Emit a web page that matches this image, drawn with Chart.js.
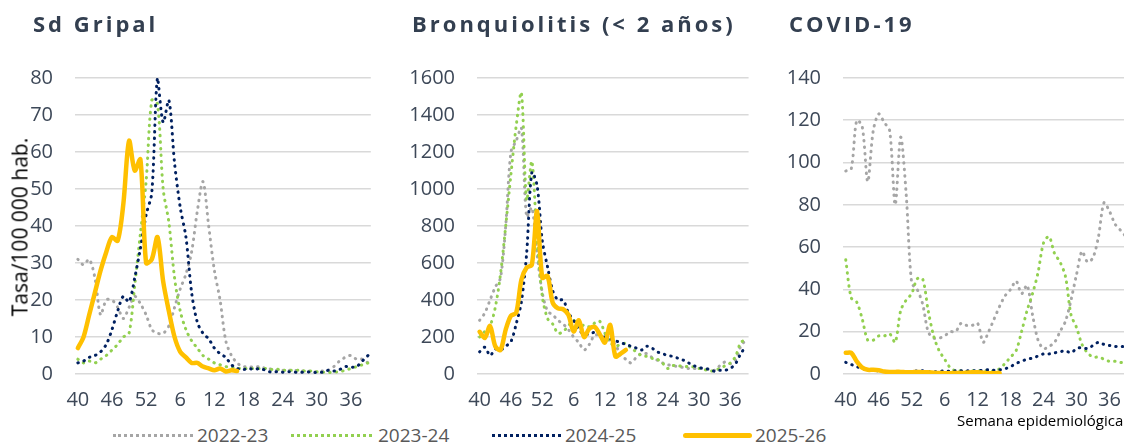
<!DOCTYPE html>
<html><head><meta charset="utf-8">
<script src="https://cdn.jsdelivr.net/npm/chart.js@4"></script>
<style>
html,body{margin:0;padding:0;background:#fff;width:1124px;height:444px;overflow:hidden;}
body{position:relative;font-family:'Open Sans',sans-serif;}
canvas{position:absolute;top:0;}
.title{position:absolute;top:12px;font-weight:700;font-size:22px;line-height:1;letter-spacing:3px;color:#333f50;white-space:nowrap;}
.ytitle{position:absolute;left:20px;top:227px;transform:translate(-50%,-50%) rotate(-90deg);font-size:21px;line-height:1;color:#000;white-space:nowrap;}
.xtitle{position:absolute;left:957px;top:413px;font-size:15px;line-height:1;color:#000;white-space:nowrap;}
.lg{position:absolute;top:426px;font-size:19px;line-height:1;color:#595959;white-space:nowrap;}
.ls{position:absolute;height:0;}
</style>
</head><body>
<canvas id="c1" width="382" height="420" style="left:0px;width:382px;height:420px"></canvas>
<canvas id="c2" width="380" height="420" style="left:380px;width:380px;height:420px"></canvas>
<canvas id="c3" width="380" height="420" style="left:760px;width:380px;height:420px"></canvas>
<div class="title" style="left:33px">Sd Gripal</div>
<div class="title" style="left:412px">Bronquiolitis (&lt; 2 años)</div>
<div class="title" style="left:789px">COVID-19</div>
<div class="ytitle">Tasa/100 000 hab.</div>
<div class="xtitle">Semana epidemiológica</div>
<div class="ls" style="left:113px;top:434px;width:80px;border-top:3px dotted #a6a6a6"></div>
<div class="lg" style="left:197px">2022-23</div>
<div class="ls" style="left:291px;top:434px;width:81px;border-top:3px dotted #92d050"></div>
<div class="lg" style="left:378px">2023-24</div>
<div class="ls" style="left:492px;top:434px;width:69px;border-top:3px dotted #002060"></div>
<div class="lg" style="left:565px">2024-25</div>
<div class="ls" style="left:683px;top:433px;width:69px;border-top:5px solid #ffc000;border-radius:3px"></div>
<div class="lg" style="left:755px">2025-26</div>
<script>
const weeks = [40,41,42,43,44,45,46,47,48,49,50,51,52,1,2,3,4,5,6,7,8,9,10,11,12,13,14,15,16,17,18,19,20,21,22,23,24,25,26,27,28,29,30,31,32,33,34,35,36,37,38,39];
const seasons = ['2022-23','2023-24','2024-25','2025-26'];

const gripal_2223 = [31,29.5,31,26,16,20,20,18,15,18,21,19,16,12,11,11,13,18,23,27,33,44,52,40,28,20,9,5,3,2,2,1.8,2,1.5,1.3,1,1,1,1,0.8,0.8,0.7,0.6,0.8,1,2,3.5,4.5,5,4,4,3];
const gripal_2324 = [4,3,3.5,3,4,5,6.5,8,10,11,24,38,52,74,73,50,41,26,17,12,9,7,5,4,3,2.5,2,1.8,1.5,1.5,1.5,1.5,1.5,1.5,1.2,1.3,1,1,1,1,0.8,0.8,0.6,0.5,0.4,0.5,0.6,1,1.5,2,2.5,3];
const gripal_2425 = [3,3.5,4.5,5,6,8,12,17,21,19.5,26,34,43,49,80,68,74,57,45,37,22,14,11,9.5,7,5.5,4.5,2.5,1.5,1.2,1.5,1.2,1.5,1,0.5,0.6,0.5,0.6,0.5,0.4,0.6,0.5,0.4,0.5,1,0.8,1.2,2,1.8,2,3.5,5];
const gripal_2526 = [7,10,16,22,28,33,37,36,46,63,55,58,30,31,37,25,17,10,6,4.5,3,3,2,1.5,1,1.5,0.7,1,0.8];

const bronq_2223 = [290,330,400,470,520,800,1200,1260,1330,850,900,650,440,340,320,290,270,240,200,170,130,160,210,210,195,180,160,100,80,60,90,110,110,90,75,60,50,45,40,35,30,30,30,30,25,20,45,65,55,75,150,185];
const bronq_2324 = [200,230,260,360,540,800,1080,1340,1520,940,1150,720,420,300,270,220,230,260,290,250,265,255,275,285,220,170,150,160,165,140,120,100,95,85,80,60,30,45,45,40,40,38,30,25,15,20,30,45,60,95,170,185];
const bronq_2425 = [120,145,100,135,130,150,175,270,390,650,1090,1020,720,580,450,400,400,330,290,240,215,215,225,215,200,190,180,170,160,150,140,130,150,140,120,110,100,95,85,75,60,45,35,30,25,15,20,20,30,55,110,150];
const bronq_2526 = [228,195,260,150,130,240,315,330,510,575,590,880,520,530,385,355,350,320,230,290,200,245,255,215,170,265,95,110,130];

const covid_2223 = [96,97,120,117,91,115,123,119,115,80,112,85,43,40,33,20,17,17,18,20,20,24,23,23,24,15,20,26,32,37,40,44,38,42,28,16,12,13,15,20,25,35,47,58,53,55,65,81,77,71,68,65];
const covid_2324 = [54,36,34,26,16,16,18,18,19,15,30,35,38,45,45,30,18,11,7,3,1.5,1.5,1.2,1.5,1.5,1.5,1.5,1.5,2.5,5,8,11,20,30,38,48,62,65,57,53,46,28,22,14,10,8,8,7,6,6,5.5,5];
const covid_2425 = [5.5,4.5,3.5,2.5,2,1.5,1.5,1.2,1.2,1,1,1,1.2,1.5,1.5,1.2,1,1.2,1.5,1.2,1.5,1.5,1.5,1.5,1.5,1.8,2,1.8,2,2.5,3.5,5,6,7,7.5,8.5,9.5,9.5,10,10.5,11,10,12,12.5,12,13.5,15,14,13.5,13,13,13];
const covid_2526 = [10,10,6,3,2,2,1.8,1.2,1,1,1,0.8,0.8,1,0.8,0.8,0.6,0.5,0.4,0.4,0.5,0.5,0.6,0.8,0.8,0.6,0.4,0.4,0.5];

const colors = ['#a6a6a6','#92d050','#002060','#ffc000'];
const tickColor = '#3d4858';

function dotted(label, data, color, order){
  return {label, data, borderColor: color, backgroundColor: color, borderWidth: 3,
    borderDash: [0.5, 6], borderCapStyle: 'round', borderJoinStyle: 'round',
    pointRadius: 0, tension: 0.3, order, spanGaps: false};
}
function solid(label, data, color, order){
  return {label, data, borderColor: color, backgroundColor: color, borderWidth: 4.5,
    borderCapStyle: 'round', borderJoinStyle: 'round',
    pointRadius: 0, tension: 0.3, order, spanGaps: false};
}

function makeChart(id, series, yMax, yStep, yWidth, rightPad){
  return new Chart(document.getElementById(id), {
    type: 'line',
    data: {
      labels: weeks,
      datasets: [
        dotted(seasons[0], series[0], colors[0], 3),
        dotted(seasons[1], series[1], colors[1], 2),
        dotted(seasons[2], series[2], colors[2], 1),
        solid(seasons[3], series[3], colors[3], 0)
      ]
    },
    options: {
      responsive: false, animation: false, devicePixelRatio: 1,
      layout: {padding: {top: 78, right: rightPad, bottom: 10, left: 0}},
      plugins: {legend: {display: false}, tooltip: {enabled: false}, title: {display: false}},
      scales: {
        x: {
          type: 'category', offset: true,
          grid: {display: false, drawTicks: false},
          border: {display: false},
          ticks: {
            autoSkip: false, maxRotation: 0, minRotation: 0, padding: 14,
            color: tickColor, font: {family: 'Open Sans', size: 20},
            callback: function(v, i){ return i % 6 === 0 ? String(weeks[i]) : ''; }
          },
          afterFit: s => { s.height = 36; }
        },
        y: {
          min: 0, max: yMax,
          grid: {color: '#d9d9d9', lineWidth: 1.6, drawTicks: false},
          border: {display: false},
          ticks: {stepSize: yStep, padding: 22, color: tickColor, font: {family: 'Open Sans', size: 20},
            callback: v => String(v)},
          afterFit: s => { s.width = yWidth; }
        }
      }
    }
  });
}

makeChart('c1', [gripal_2223, gripal_2324, gripal_2425, gripal_2526], 80, 10, 75, 3);
makeChart('c2', [bronq_2223, bronq_2324, bronq_2425, bronq_2526], 1600, 200, 97, 3);
makeChart('c3', [covid_2223, covid_2324, covid_2425, covid_2526], 140, 20, 83, 5);
</script>
</body></html>
